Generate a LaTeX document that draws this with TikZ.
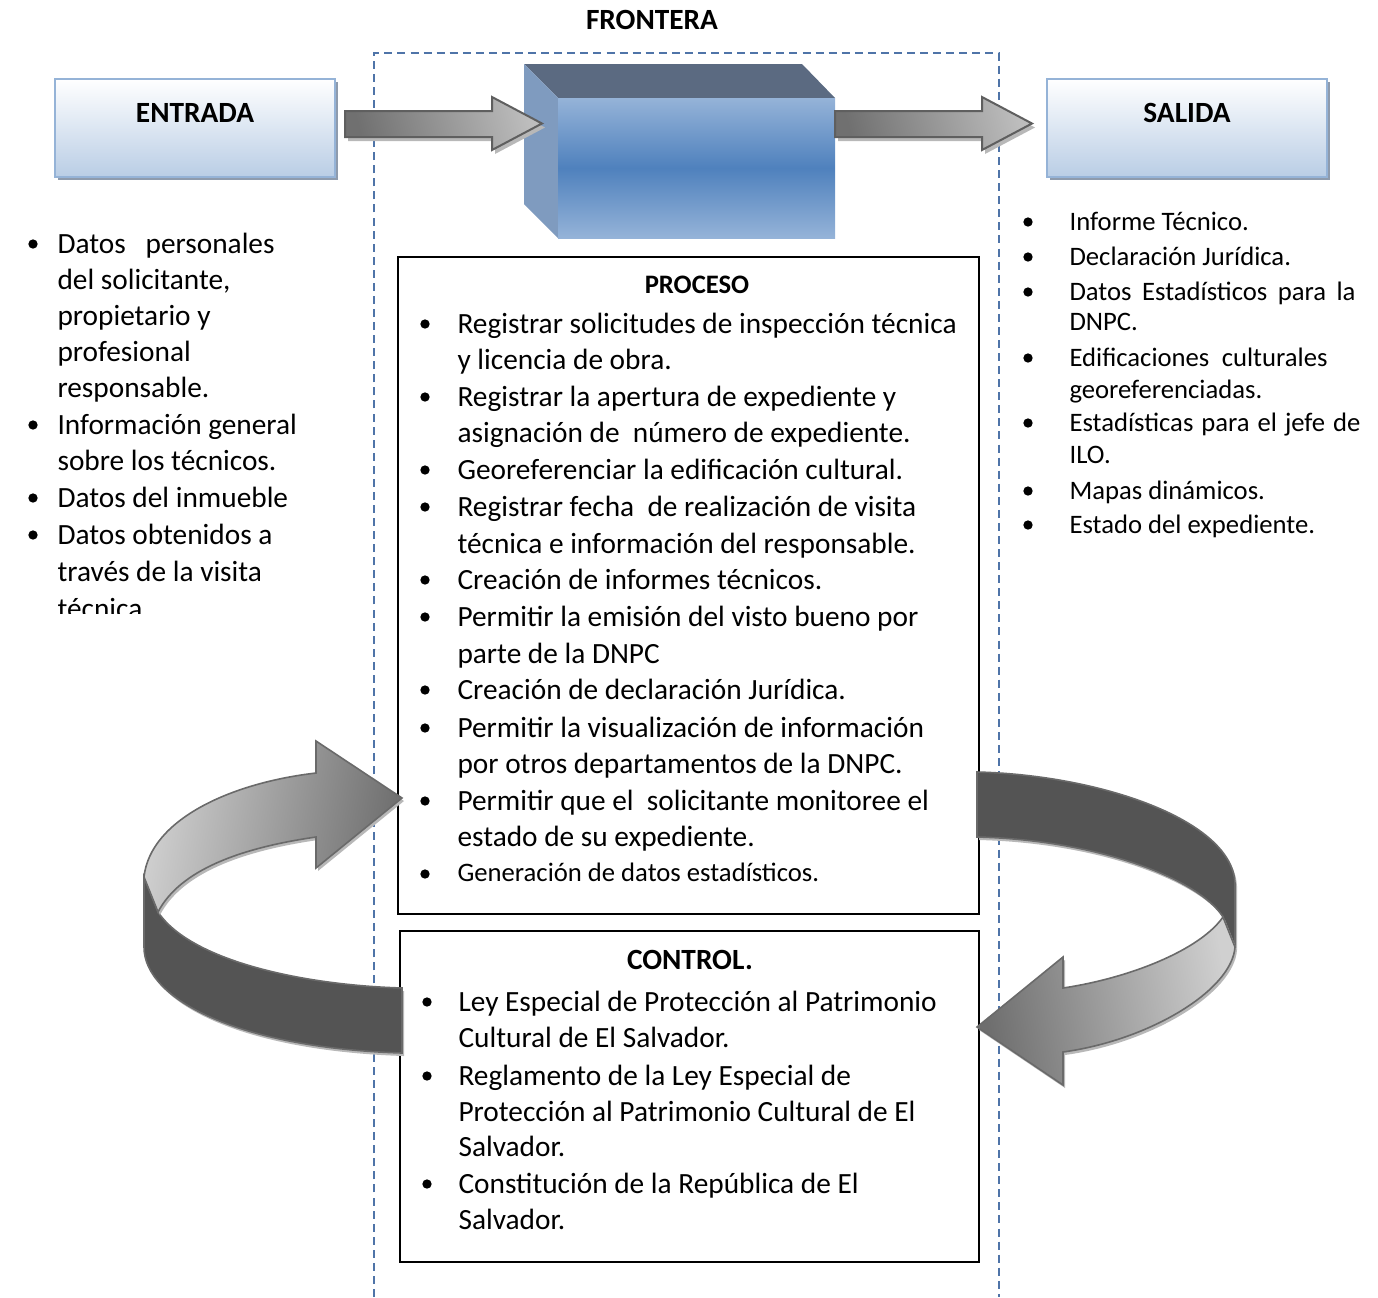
\documentclass[tikz,border=0pt]{standalone}
\usepackage{fontspec}
\setmainfont{Carlito}
\usetikzlibrary{shadows}

\definecolor{frame}{HTML}{4F74A8}
\definecolor{boxedge}{HTML}{95B3D7}
\definecolor{boxbot}{HTML}{B9CDE5}
\definecolor{boxshadow}{HTML}{8E9BAD}
\definecolor{cubetop}{HTML}{5B6A81}
\definecolor{cubeside}{HTML}{7F9BBF}
\definecolor{cubelight}{HTML}{95B3D8}
\definecolor{cubemid}{HTML}{4F81BD}
\definecolor{arrdark}{HTML}{707070}
\definecolor{arrmid}{HTML}{CACACA}
\definecolor{arrlight}{HTML}{BDBDBD}
\definecolor{arredge}{HTML}{5F5F5F}
\definecolor{arrshadow}{HTML}{B8B8B8}
\definecolor{ribbondark}{HTML}{545454}
\definecolor{ribbonedge}{HTML}{6A6A6A}
\definecolor{ribbonlight}{HTML}{D0D0D0}
\definecolor{ribbonshade}{HTML}{6E6E6E}

% one line of list text, set on its baseline
\newcommand\listline[5][linetext]{\node[#1] (#2) at (#3,#4) {#5};}
% a list bullet
\newcommand\listdot[2]{\fill (#1,#2) circle (1.75pt);}

% ribbon outlines of the two feedback arrows
\newcommand\leftribbonfront{(144,877) .. controls (150,820) and (230,783) .. (316,773) -- (316,741) -- (402,798) -- (316,868) -- (316,837) .. controls (240,848) and (180,870) .. (158,912) -- cycle}
\newcommand\leftribbonback{(144,877) -- (144,947) .. controls (144,1000) and (240,1048) .. (402,1053) -- (402,988) .. controls (300,985) and (190,960) .. (158,912) -- cycle}
\newcommand\rightribbonback{(977,772) .. controls (1100,775) and (1232,820) .. (1235,883) -- (1235,947) -- (1223,917) .. controls (1200,880) and (1100,840) .. (977,837) -- cycle}
\newcommand\rightribbonfront{(1223,917) -- (1235,947) .. controls (1232,990) and (1150,1040) .. (1063,1052) -- (1063,1085) -- (977,1027) -- (1063,957) -- (1063,988) .. controls (1130,978) and (1200,950) .. (1223,917) -- cycle}
% straight block arrows
\newcommand\inarrow{(345,111) -- (492,111) -- (492,97) -- (542,123.5) -- (492,150) -- (492,137) -- (345,137) -- cycle}
\newcommand\outarrow{(835,111) -- (982,111) -- (982,97) -- (1032,123.5) -- (982,150) -- (982,137) -- (835,137) -- cycle}

\begin{document}
\begin{tikzpicture}[x=0.375pt,y=-0.375pt,
  linetext/.style={anchor=base west,inner sep=0pt,font=\fontsize{11}{13}\selectfont},
  smalltext/.style={anchor=base west,inner sep=0pt,font=\fontsize{10}{12}\selectfont},
  heading/.style={inner sep=0pt,font=\fontsize{11}{13}\selectfont\bfseries},
  smallheading/.style={inner sep=0pt,font=\fontsize{10}{12}\selectfont\bfseries},
  iobox/.style={draw=boxedge,line width=0.75pt,top color=white,bottom color=boxbot,
    minimum width=105pt,minimum height=36.75pt,inner sep=0pt,
    drop shadow={shadow xshift=1.1pt,shadow yshift=-1.1pt,fill=boxshadow,opacity=1}},
  textbox/.style={draw=black,line width=0.8pt,inner sep=0pt,outer sep=0pt},
  frontier/.style={draw=frame,line width=0.75pt,dash pattern=on 3pt off 1.9pt},
  blockarrow/.style={draw=arredge,line width=0.75pt,left color=arrdark,middle color=arrmid,right color=arrlight,shading angle=105},
  blockshadow/.style={fill=arrshadow},
  ribbonback/.style={fill=ribbondark,draw=ribbonedge,line width=0.6pt},
  ribbonshadow/.style={fill=arrshadow}]

\useasboundingbox (0,0) rectangle (1378,1297);

% system frontier
\draw[frontier] (374,1297) -- (374,53) -- (999,53) -- (999,1297);
\node[heading] (frontera) at (652,20) {FRONTERA};

% input and output boxes
\node[iobox] (entrada) at (195,128) {};
\node[heading] (entradalbl) at (195,113) {ENTRADA};
\node[iobox] (salida) at (1187,128) {};
\node[heading] (salidalbl) at (1187,113) {SALIDA};

% processing block drawn as a box
\fill[cubetop] (524,64) -- (802,64) -- (835,98) -- (558,98) -- cycle;
\fill[cubeside] (524,64) -- (558,98) -- (558,238) -- (524,204) -- cycle;
\shade[top color=cubelight,bottom color=cubelight,middle color=cubemid] (558,98) rectangle (835,238);
\coordinate (cubein) at (542,123.5);
\coordinate (cubeout) at (835,123.5);

% block arrows into and out of the process
\fill[blockshadow,shift={(3,4)}] \inarrow;
\path[blockarrow] \inarrow;
\fill[blockshadow,shift={(3,4)}] \outarrow;
\path[blockarrow] \outarrow;

% process box
\node[textbox,minimum width=217.9pt,minimum height=246.4pt] (proceso) at (688.5,585.5) {};
\node[smallheading] (procesolbl) at (697,285) {PROCESO};
\listdot{425}{324}
\listline{p1}{457}{333}{Registrar solicitudes de inspección técnica}
\listline{p2}{457}{369}{y licencia de obra.}
\listdot{425}{397}
\listline{p3}{457}{406}{Registrar la apertura de expediente y}
\listline{p4}{457}{442}{asignación de~ número de expediente.}
\listdot{425}{470}
\listline{p5}{457}{479}{Georeferenciar la edificación cultural.}
\listdot{425}{507}
\listline{p6}{457}{516}{Registrar fecha~ de realización de visita}
\listline{p7}{457}{553}{técnica e información del responsable.}
\listdot{425}{580}
\listline{p8}{457}{589}{Creación de informes técnicos.}
\listdot{425}{617}
\listline{p9}{457}{626}{Permitir la emisión del visto bueno por}
\listline{p10}{457}{663}{parte de la DNPC}
\listdot{425}{690}
\listline{p11}{457}{699}{Creación de declaración Jurídica.}
\listdot{425}{728}
\listline{p12}{457}{737}{Permitir la visualización de información}
\listline{p13}{457}{773}{por otros departamentos de la DNPC.}
\listdot{425}{801}
\listline{p14}{457}{810}{Permitir que el~ solicitante monitoree el}
\listline{p15}{457}{846}{estado de su expediente.}
\listdot{425}{874}
\listline[smalltext]{p16}{457}{881}{Generación de datos estadísticos.}

% control box
\node[textbox,minimum width=217.1pt,minimum height=124.1pt] (control) at (689.5,1096.5) {};
\node[heading] (controllbl) at (690,960) {CONTROL.};
\listdot{427}{1002}
\listline{c1}{458}{1011}{Ley Especial de Protección al Patrimonio}
\listline{c2}{458}{1047}{Cultural de El Salvador.}
\listdot{427}{1076}
\listline{c3}{458}{1085}{Reglamento de la Ley Especial de}
\listline{c4}{458}{1121}{Protección al Patrimonio Cultural de El}
\listline{c5}{458}{1156}{Salvador.}
\listdot{427}{1184}
\listline{c6}{458}{1193}{Constitución de la República de El}
\listline{c7}{458}{1229}{Salvador.}

% input list, cut off at the foot of its text frame
\begin{scope}
\clip (0,140) rectangle (372,613);
\listdot{33}{244}
\listline{e1}{57}{253}{\makebox[81.4pt][s]{Datos personales}}
\listline{e2}{57}{289}{del solicitante,}
\listline{e3}{57}{325}{propietario y}
\listline{e4}{57}{361}{profesional}
\listline{e5}{57}{397}{responsable.}
\listdot{33}{425}
\listline{e6}{57}{434}{Información general}
\listline{e7}{57}{470}{sobre los técnicos.}
\listdot{33}{498}
\listline{e8}{57}{507}{Datos del inmueble}
\listdot{33}{535}
\listline{e9}{57}{544}{Datos obtenidos a}
\listline{e10}{57}{581}{través de la visita}
\listline{e11}{57}{618}{técnica.}
\end{scope}

% output list
\listdot{1028}{222}
\listline[smalltext]{s1}{1069}{230}{Informe Técnico.}
\listdot{1028}{257}
\listline[smalltext]{s2}{1069}{265}{Declaración Jurídica.}
\listdot{1028}{292}
\listline[smalltext]{s3}{1069}{300}{\makebox[107.25pt][s]{Datos Estadísticos para la}}
\listline[smalltext]{s4}{1069}{330}{DNPC.}
\listdot{1028}{358}
\listline[smalltext]{s5}{1069}{366}{\makebox[96.75pt][s]{Edificaciones culturales}}
\listline[smalltext]{s6}{1069}{398}{georeferenciadas.}
\listdot{1028}{423}
\listline[smalltext]{s7}{1069}{431}{\makebox[109.1pt][s]{Estadísticas para el jefe de}}
\listline[smalltext]{s8}{1069}{463}{ILO.}
\listdot{1028}{491}
\listline[smalltext]{s9}{1069}{499}{Mapas dinámicos.}
\listdot{1028}{525}
\listline[smalltext]{s10}{1069}{533}{Estado del expediente.}

% feedback arrow on the left: control back into process
\fill[ribbonshadow,shift={(2,3)}] \leftribbonback;
\path[ribbonback] \leftribbonback;
\fill[ribbonshadow,shift={(2,3)}] \leftribbonfront;
\path[draw=ribbonedge,line width=0.6pt,left color=ribbonlight,right color=ribbonshade,shading angle=80] \leftribbonfront;

% feedback arrow on the right: process back into control
\fill[ribbonshadow,shift={(2,3)}] \rightribbonback;
\path[ribbonback] \rightribbonback;
\fill[ribbonshadow,shift={(2,3)}] \rightribbonfront;
\path[draw=ribbonedge,line width=0.6pt,left color=ribbonshade,right color=ribbonlight,shading angle=100] \rightribbonfront;

\end{tikzpicture}
\end{document}
